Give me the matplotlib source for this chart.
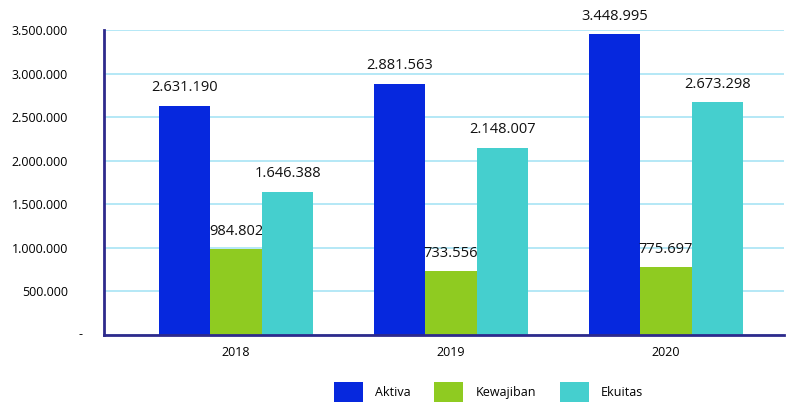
import matplotlib.pyplot as plt
import numpy as np

years = ['2018', '2019', '2020']
aktiva = [2631190, 2881563, 3448995]
kewajiban = [984802, 733556, 775697]
ekuitas = [1646388, 2148007, 2673298]

series = [('Aktiva', aktiva, '#0628de'),
          ('Kewajiban', kewajiban, '#8fcb21'),
          ('Ekuitas', ekuitas, '#45cfce')]

def fmt(v):
    return '{:,}'.format(v).replace(',', '.')

plt.rcParams['font.family'] = ['Open Sans', 'DejaVu Sans']

fig = plt.figure(figsize=(7.92, 4.07), dpi=100)
ax = fig.add_axes([104 / 792, 72 / 407, 680 / 792, 305 / 407])

x = np.arange(len(years))
w = 0.24
for i, (name, vals, col) in enumerate(series):
    xs = x + (i - 1) * w
    ax.bar(xs, vals, w, color=col, label=name, zorder=3)
    for xx, v in zip(xs, vals):
        ax.text(xx, v + 120000, fmt(v), ha='center', va='bottom', fontsize=10.5, color='#111111')

ax.set_ylim(0, 3500000)
ax.set_xlim(-0.614, 2.549)
yt = np.arange(0, 3500001, 500000)
ax.set_yticks(yt)
ax.set_yticklabels([''] + [fmt(int(v)) for v in yt[1:]], fontsize=9)
# zero is shown as a dash, closer to the axis than the other labels
ax.text(-0.035, 0, '-', transform=ax.get_yaxis_transform(), ha='center', va='center', fontsize=9)
ax.set_xticks(x)
ax.set_xticklabels(years, fontsize=9)
ax.tick_params(length=0, pad=8)
ax.tick_params(axis='y', pad=26)
ax.yaxis.grid(True, color='#a8e4f5', linewidth=1.2, zorder=0)
ax.set_axisbelow(True)

for s in ['top', 'right']:
    ax.spines[s].set_visible(False)
for s in ['left', 'bottom']:
    ax.spines[s].set_color('#2e2a8c')
    ax.spines[s].set_linewidth(2)
    ax.spines[s].set_zorder(4)

fig.legend(loc='center', bbox_to_anchor=(0.617, 0.037), ncol=3, frameon=False,
           fontsize=9, handlelength=2.3, handleheight=2.0, columnspacing=1.9,
           handletextpad=1.0)

fig.savefig('out.png', dpi=100)
